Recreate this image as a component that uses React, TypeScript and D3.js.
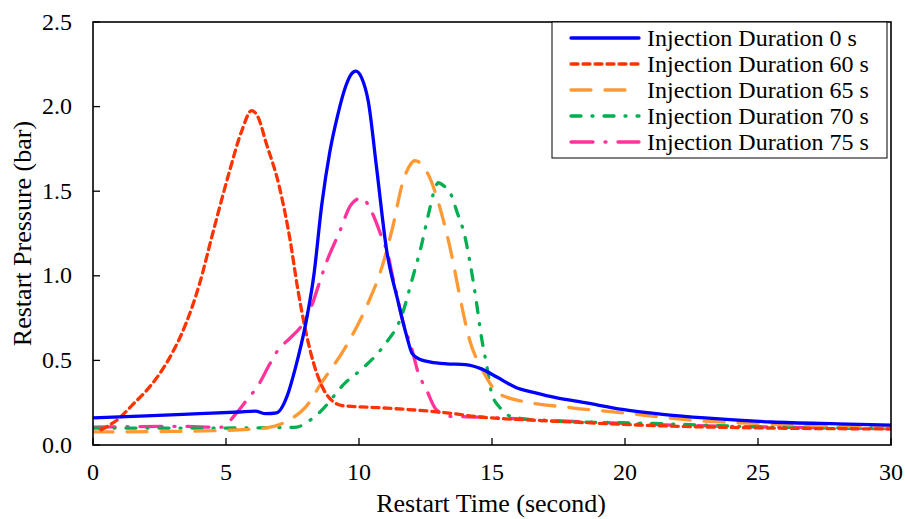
import React from "react";
import * as d3 from "d3";

const xTicks = [0, 5, 10, 15, 20, 25, 30];
const yTicks = [0, 0.5, 1.0, 1.5, 2.0, 2.5];

const seriesNames = [
  "Injection Duration 0 s",
  "Injection Duration 60 s",
  "Injection Duration 65 s",
  "Injection Duration 70 s",
  "Injection Duration 75 s",
];

const s0x = [0, 2, 4, 5.5, 6.1, 6.5, 6.9, 7.3, 7.6, 8.0, 8.3, 8.6, 8.9, 9.2, 9.5, 9.7, 9.88, 10.1, 10.35, 10.66, 11.04, 11.45, 11.8, 12.0, 12.3, 12.7, 13.3, 14.0, 14.6, 15.2, 15.9, 16.6, 17.4, 18.5, 19.9, 21.5, 23.0, 25.5, 28, 30];
const s0y = [0.16, 0.172, 0.185, 0.195, 0.2, 0.185, 0.19, 0.29, 0.45, 0.72, 1.0, 1.42, 1.73, 1.95, 2.12, 2.19, 2.21, 2.17, 2.03, 1.64, 1.15, 0.86, 0.64, 0.54, 0.505, 0.49, 0.48, 0.475, 0.45, 0.4, 0.34, 0.31, 0.28, 0.25, 0.21, 0.18, 0.16, 0.136, 0.125, 0.118];

const s1x = [0.3, 1.0, 1.5, 2.0, 2.5, 3.0, 3.5, 4.0, 4.5, 5.1, 5.6, 5.96, 6.2, 6.5, 7.0, 7.4, 7.7, 8.0, 8.3, 8.6, 9.0, 9.4, 10.8, 13.3, 14.5, 15.5, 17.5, 20.5, 25.5, 30];
const s1y = [0.09, 0.16, 0.24, 0.32, 0.42, 0.55, 0.72, 0.95, 1.25, 1.6, 1.86, 1.976, 1.94, 1.79, 1.53, 1.22, 0.92, 0.67, 0.48, 0.35, 0.26, 0.232, 0.22, 0.19, 0.166, 0.155, 0.14, 0.118, 0.1, 0.095];

const s2x = [0, 3, 6.0, 6.8, 7.4, 8.0, 8.6, 9.5, 10.4, 10.8, 11.27, 11.64, 11.9, 12.1, 12.35, 12.6, 13.1, 13.5, 13.8, 14.16, 14.65, 15.2, 15.6, 16.1, 18.0, 19.9, 22.4, 25.5, 30];
const s2y = [0.077, 0.08, 0.094, 0.11, 0.15, 0.225, 0.37, 0.58, 0.86, 1.02, 1.29, 1.55, 1.65, 1.68, 1.66, 1.6, 1.37, 1.11, 0.87, 0.62, 0.44, 0.31, 0.28, 0.26, 0.22, 0.19, 0.148, 0.124, 0.106];

const s3x = [0, 4, 7.0, 7.66, 8.0, 8.5, 9.5, 10.15, 10.9, 11.64, 12.0, 12.3, 12.65, 12.84, 12.98, 13.2, 13.4, 13.7, 13.97, 14.16, 14.4, 14.6, 14.8, 14.98, 15.3, 15.8, 17.4, 20.5, 25.5, 30];
const s3y = [0.1, 0.1, 0.103, 0.106, 0.13, 0.19, 0.37, 0.455, 0.58, 0.78, 0.98, 1.15, 1.39, 1.51, 1.55, 1.53, 1.5, 1.37, 1.24, 1.09, 0.86, 0.64, 0.47, 0.31, 0.22, 0.165, 0.14, 0.13, 0.106, 0.1];

const s4x = [0, 3.3, 4.8, 5.4, 5.8, 6.16, 6.65, 6.95, 7.4, 7.9, 8.26, 8.45, 8.8, 9.27, 9.7, 10.1, 10.5, 10.85, 11.08, 11.27, 11.45, 11.6, 12.0, 12.2, 12.54, 12.9, 13.4, 14.5, 16.8, 21.8, 28, 30];
const s4y = [0.106, 0.11, 0.105, 0.19, 0.27, 0.34, 0.48, 0.56, 0.63, 0.72, 0.84, 0.93, 1.09, 1.26, 1.42, 1.46, 1.37, 1.23, 1.13, 0.99, 0.87, 0.76, 0.56, 0.44, 0.325, 0.21, 0.17, 0.165, 0.148, 0.118, 0.1, 0.095];

const xsAll = [s0x, s1x, s2x, s3x, s4x];
const ysAll = [s0y, s1y, s2y, s3y, s4y];

const colors = ["#0000FF", "#FF3300", "#FF9933", "#00B050", "#FF3399"];
const dashes = ["", "7,5", "20,14", "10,11,1,11", "22,12,1,12"];

export default function App() {
  const W = 905, H = 519;
  const left = 93, right = 891, top = 22, bottom = 445;
  const x = d3.scaleLinear().domain([0, 30]).range([left, right]);
  const y = d3.scaleLinear().domain([0, 2.5]).range([bottom, top]);
  const line = d3
    .line<[number, number]>()
    .x((d) => x(d[0]))
    .y((d) => y(d[1]))
    .curve(d3.curveMonotoneX);
  const font = "'Liberation Serif', 'Times New Roman', serif";

  return (
    <svg width={W} height={H} style={{ position: "absolute", left: 0, top: 0 }} fontFamily={font}>
      <rect x={0} y={0} width={W} height={H} fill="#fff" />
      <defs>
        <clipPath id="plot">
          <rect x={left} y={top} width={right - left} height={bottom - top} />
        </clipPath>
      </defs>
      <g clipPath="url(#plot)">
        {[4, 3, 2, 1, 0].map((i) => {
          const pts = xsAll[i].map((xv, k) => [xv, ysAll[i][k]] as [number, number]);
          return (
            <path
              key={i}
              d={line(pts) || ""}
              fill="none"
              stroke={colors[i]}
              strokeWidth={3.3}
              strokeDasharray={dashes[i] || undefined}
              strokeLinecap="round"
            />
          );
        })}
      </g>
      <rect x={left} y={top} width={right - left} height={bottom - top} fill="none" stroke="#000" strokeWidth={1.6} />
      {xTicks.map((t) => (
        <g key={"x" + t}>
          <line x1={x(t)} x2={x(t)} y1={bottom} y2={bottom - 7} stroke="#000" strokeWidth={1.3} />
          <text x={x(t)} y={480} fontSize={24} textAnchor="middle">{t}</text>
        </g>
      ))}
      {yTicks.map((t) => (
        <g key={"y" + t}>
          <line x1={left} x2={left + 7} y1={y(t)} y2={y(t)} stroke="#000" strokeWidth={1.3} />
          <text x={72} y={y(t) + 7.5} fontSize={24} textAnchor="end">{t.toFixed(1)}</text>
        </g>
      ))}
      <text x={491} y={512} fontSize={26} textAnchor="middle">Restart Time (second)</text>
      <text transform={`translate(31,${(top + bottom) / 2}) rotate(-90)`} fontSize={26} textAnchor="middle">Restart Pressure (bar)</text>
      <rect x={552} y={top} width={335} height={136} fill="#fff" stroke="#000" strokeWidth={1} />
      {seriesNames.map((n, i) => {
        const cy = 38 + i * 26;
        return (
          <g key={n}>
            <line x1={571} x2={639} y1={cy} y2={cy} stroke={colors[i]} strokeWidth={3.3} strokeDasharray={dashes[i] || undefined} strokeLinecap="round" />
            <text x={647} y={cy + 8} fontSize={24}>{n}</text>
          </g>
        );
      })}
    </svg>
  );
}
